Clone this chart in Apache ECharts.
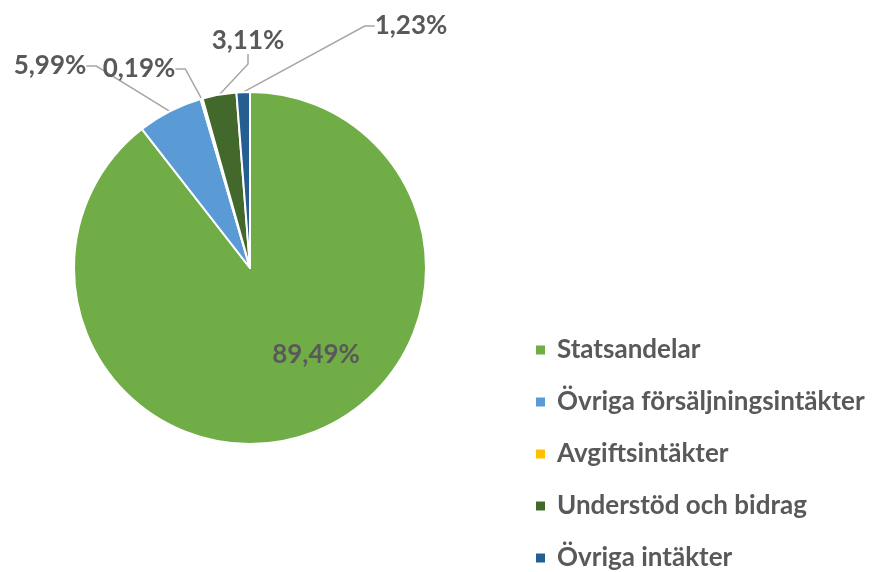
<!DOCTYPE html>
<html>
<head>
<meta charset="utf-8">
<script src="https://cdn.jsdelivr.net/npm/echarts@6/dist/echarts.min.js"></script>
<style>html,body{margin:0;padding:0;background:#fff}#c{width:882px;height:572px}</style>
</head>
<body>
<div id="c"></div>
<script>
const categories = ['Statsandelar', 'Övriga försäljningsintäkter', 'Avgiftsintäkter', 'Understöd och bidrag', 'Övriga intäkter'];
const values = [89.49, 5.99, 0.19, 3.11, 1.23];
const colors = ['#70AD47', '#5B9BD5', '#FFC000', '#43682B', '#255E91'];
// label centre positions (layout only)
const labelPos = [[316, 355], [50, 66], [139, 69], [248, 41], [411, 26]];

const FONT = 'Lato';
const TXT = '#595959';

const chart = echarts.init(document.getElementById('c'), null, {renderer: 'canvas'});
chart.setOption({
  animation: false,
  color: colors,
  legend: {
    orient: 'vertical',
    left: 534,
    top: 337,
    padding: 0,
    itemWidth: 11,
    itemHeight: 11,
    itemGap: 26,
    icon: 'rect',
    data: categories,
    textStyle: {fontFamily: FONT, fontWeight: 'bold', fontSize: 26, color: TXT, padding: [0, 0, 0, 6]}
  },
  series: [{
    type: 'pie',
    center: [250, 268],
    radius: 176,
    startAngle: 90,
    clockwise: true,
    avoidLabelOverlap: false,
    itemStyle: {borderColor: '#fff', borderWidth: 2},
    label: {
      show: true,
      position: 'outside',
      fontFamily: FONT, fontWeight: 'bold', fontSize: 26, color: TXT,
      formatter: p => p.value.toFixed(2).replace('.', ',') + '%'
    },
    labelLine: {show: true, length: 20, length2: 10, smooth: false, lineStyle: {color: '#A6A6A6', width: 1.5}},
    labelLayout: function (params) {
      const p = labelPos[params.dataIndex];
      return {x: p[0], y: p[1], align: 'center', verticalAlign: 'middle'};
    },
    data: categories.map((name, i) => {
      const d = {name: name, value: values[i]};
      if (i === 0) {
        d.label = {position: 'inside'};
        d.labelLine = {show: false};
      }
      return d;
    })
  }]
});
</script>
</body>
</html>
